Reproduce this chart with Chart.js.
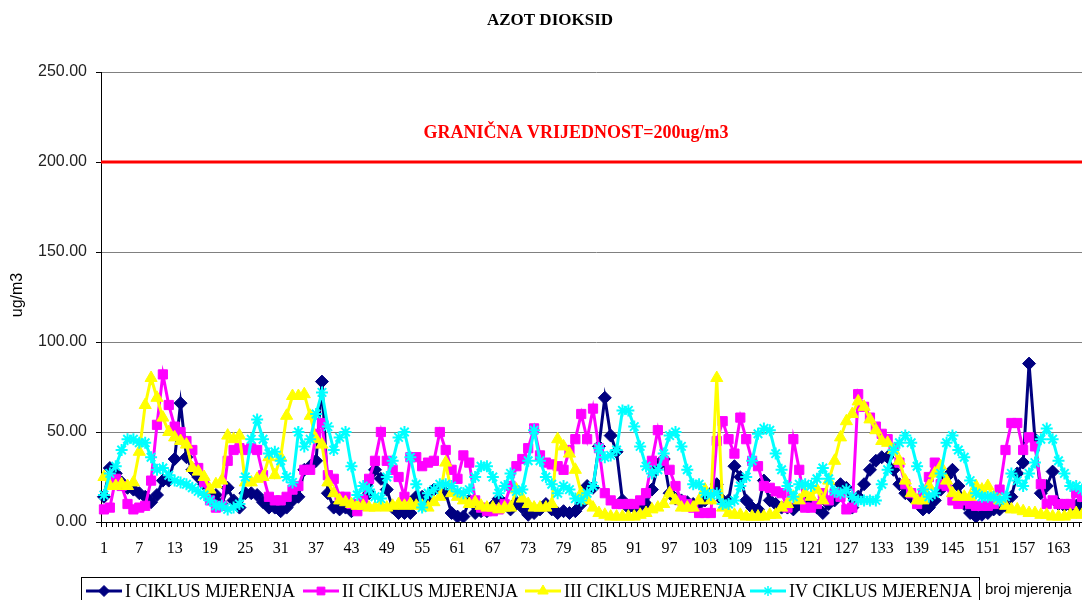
<!DOCTYPE html>
<html>
<head>
<meta charset="utf-8">
<title>AZOT DIOKSID</title>
<script src="https://cdn.jsdelivr.net/npm/chart.js@4.4.1/dist/chart.umd.min.js"></script>
<style>
  html, body { margin: 0; padding: 0; background: #fff; overflow: hidden; }
  canvas { display: block; }
</style>
</head>
<body>
<canvas id="chart" width="1100" height="612"></canvas>
<script>
// Measurement numbers 1..168 (category axis), only every 6th one is labelled
const measurementNo = Array.from({ length: 168 }, (_, i) => String(i + 1));
const xTickLabels = ['1', '7', '13', '19', '25', '31', '37', '43', '49', '55', '61', '67', '73', '79',
  '85', '91', '97', '103', '109', '115', '121', '127', '133', '139', '145', '151', '157', '163'];

// Limit value (ug/m3)
const LIMIT_VALUE = 200;
const LIMIT_TEXT = 'GRANIČNA VRIJEDNOST=200ug/m3';

// NO2 concentrations, ug/m3
const cycle1 = [
  14, 30, 27, 22, 19, 18, 16, 14, 11, 15,
  23, 23, 35, 66, 36, 29, 25, 21, 16, 15,
  10, 19, 12, 8, 16, 16, 15, 11, 8, 8,
  6, 8, 12, 14, 29, 31, 34, 78, 16, 8,
  7, 8, 6, 8, 10, 16, 29, 24, 18, 8,
  5, 5, 5, 14, 14, 12, 18, 18, 16, 5,
  3, 3, 12, 5, 6, 6, 9, 13, 10, 7,
  11, 8, 4, 5, 7, 10, 7, 5, 6, 5,
  6, 10, 20, 19, 42, 69, 48, 39, 12, 8,
  8, 9, 10, 18, 31, 35, 16, 13, 12, 11,
  10, 10, 12, 16, 21, 12, 12, 31, 25, 12,
  8, 7, 23, 12, 10, 8, 8, 7, 10, 12,
  10, 8, 5, 10, 12, 21, 19, 8, 14, 21,
  29, 34, 36, 36, 29, 21, 16, 14, 12, 7,
  8, 12, 18, 25, 29, 20, 10, 5, 3, 4,
  5, 7, 7, 9, 14, 27, 33, 88, 46, 16,
  20, 28, 10, 9, 9, 9, 8, 10
];

const cycle2 = [
  7, 8, 24, 20, 10, 7, 8, 9, 23, 54,
  82, 65, 53, 50, 45, 40, 30, 22, 12, 8,
  9, 34, 40, 41, 40, 41, 40, 26, 14, 12,
  12, 14, 18, 20, 29, 29, 49, 55, 26, 24,
  14, 14, 10, 6, 12, 24, 34, 50, 34, 29,
  25, 14, 36, 36, 31, 33, 34, 50, 40, 29,
  24, 37, 33, 12, 8, 6, 6, 7, 10, 20,
  31, 35, 41, 52, 37, 33, 32, 31, 29, 40,
  46, 60, 46, 63, 41, 16, 12, 10, 10, 10,
  10, 12, 16, 34, 51, 34, 29, 20, 12, 10,
  8, 5, 5, 5, 45, 56, 46, 38, 58, 46,
  34, 31, 20, 19, 17, 16, 8, 46, 29, 8,
  8, 10, 16, 12, 16, 14, 7, 8, 71, 64,
  58, 53, 49, 46, 41, 33, 21, 16, 10, 16,
  25, 33, 21, 20, 12, 10, 12, 10, 9, 9,
  9, 10, 18, 40, 55, 55, 40, 47, 42, 21,
  10, 12, 10, 10, 10, 16, 14, 12
];

const cycle3 = [
  25, 20, 20, 21, 20, 22, 39, 65, 80, 69,
  58, 50, 47, 45, 43, 30, 28, 25, 18, 21,
  23, 48, 46, 48, 22, 22, 24, 25, 36, 26,
  36, 59, 70, 70, 71, 59, 46, 43, 22, 16,
  12, 11, 10, 9, 9, 8, 8, 9, 8, 9,
  10, 9, 10, 9, 9, 8, 11, 14, 33, 16,
  14, 12, 10, 11, 9, 8, 8, 7, 8, 8,
  18, 13, 10, 8, 8, 8, 10, 46, 42, 38,
  29, 16, 12, 8, 5, 4, 3, 3, 3, 3,
  3, 4, 5, 7, 8, 10, 16, 12, 8, 8,
  8, 12, 18, 12, 80, 8, 5, 4, 4, 3,
  3, 3, 3, 4, 4, 8, 10, 14, 12, 16,
  14, 18, 12, 23, 34, 47, 56, 60, 67, 64,
  57, 51, 45, 44, 40, 34, 23, 16, 12, 12,
  20, 27, 31, 23, 16, 14, 14, 14, 20, 18,
  20, 14, 12, 9, 7, 7, 6, 5, 5, 4,
  4, 3, 3, 3, 4, 5, 4, 4
];

const cycle4 = [
  15, 27, 31, 40, 46, 46, 44, 44, 36, 29,
  30, 26, 23, 22, 21, 19, 17, 15, 12, 9,
  9, 7, 8, 10, 25, 46, 57, 46, 38, 39,
  34, 25, 22, 50, 42, 46, 60, 72, 53, 40,
  47, 50, 31, 15, 20, 18, 14, 13, 25, 34,
  47, 50, 36, 21, 8, 16, 18, 21, 21, 20,
  17, 16, 18, 25, 31, 31, 25, 16, 20, 27,
  17, 18, 34, 51, 34, 25, 21, 16, 20, 18,
  13, 12, 16, 20, 41, 36, 37, 40, 62, 62,
  53, 42, 31, 27, 29, 38, 48, 50, 42, 29,
  21, 21, 16, 15, 16, 10, 10, 12, 20, 25,
  34, 49, 52, 51, 38, 29, 20, 14, 21, 21,
  20, 24, 30, 24, 17, 16, 18, 14, 12, 12,
  12, 12, 21, 29, 40, 44, 48, 44, 31, 18,
  14, 16, 27, 44, 48, 40, 36, 23, 16, 14,
  14, 14, 12, 14, 27, 23, 20, 27, 33, 46,
  52, 46, 34, 27, 20, 20, 18, 16
];

const SERIF = "'Liberation Serif', 'Times New Roman', serif";
const SANS = "'Liberation Sans', Arial, sans-serif";
const CANVAS_H = 612;

// Series look (Excel style markers)
const SERIES = [
  { label: 'I CIKLUS MJERENJA', data: cycle1, color: '#000080', style: 'rectRot', radius: 6.5 },
  { label: 'II CIKLUS MJERENJA', data: cycle2, color: '#FF00FF', style: 'rect', radius: 6.5 },
  { label: 'III CIKLUS MJERENJA', data: cycle3, color: '#FFFF00', style: 'triangle', radius: 7 },
  { label: 'IV CIKLUS MJERENJA', data: cycle4, color: '#00FFFF', style: 'star', radius: 6 },
];

// Legend item positions (line start)
const LEGEND_X = [86, 303, 525, 750];

function drawMarker(ctx, s, x, y) {
  ctx.fillStyle = s.color;
  ctx.strokeStyle = s.color;
  ctx.lineWidth = s.style === 'star' ? 1.5 : 1;
  Chart.helpers.drawPoint(ctx, { pointStyle: s.style, radius: s.radius - 1, rotation: 0, borderWidth: ctx.lineWidth }, x, y);
}

// Title, limit line + label, axis titles and legend box
const overlay = {
  id: 'overlay',
  beforeDatasetsDraw(chart) {
    const { ctx, chartArea, scales: { y } } = chart;
    const py = y.getPixelForValue(LIMIT_VALUE);
    ctx.save();
    ctx.strokeStyle = '#FF0000';
    ctx.lineWidth = 3;
    ctx.beginPath();
    ctx.moveTo(chartArea.left, py);
    ctx.lineTo(chartArea.right, py);
    ctx.stroke();
    ctx.restore();
  },
  afterDraw(chart) {
    const { ctx, scales: { y } } = chart;
    ctx.save();
    ctx.textBaseline = 'middle';

    // chart title
    ctx.fillStyle = '#000';
    ctx.textAlign = 'center';
    ctx.font = `bold 17px ${SERIF}`;
    ctx.fillText('AZOT DIOKSID', 550, 21);

    // limit label
    ctx.fillStyle = '#FF0000';
    ctx.font = `bold 18px ${SERIF}`;
    ctx.fillText(LIMIT_TEXT, 576, y.getPixelForValue(LIMIT_VALUE) - 29);

    // y axis title
    ctx.save();
    ctx.translate(18, 295);
    ctx.rotate(-Math.PI / 2);
    ctx.fillStyle = '#000';
    ctx.font = `16px ${SANS}`;
    ctx.fillText('ug/m3', 0, 0);
    ctx.restore();

    // legend
    ctx.strokeStyle = '#000';
    ctx.lineWidth = 1;
    ctx.strokeRect(81.5, 577.5, 898, 40);
    ctx.textAlign = 'left';
    ctx.font = `18px ${SERIF}`;
    SERIES.forEach((s, i) => {
      const lx = LEGEND_X[i];
      ctx.strokeStyle = s.color;
      ctx.lineWidth = 3;
      ctx.beginPath();
      ctx.moveTo(lx, 591);
      ctx.lineTo(lx + 36, 591);
      ctx.stroke();
      drawMarker(ctx, s, lx + 18, 591);
      ctx.fillStyle = '#000';
      ctx.fillText(s.label, lx + 39, 592);
    });

    // x axis title
    ctx.font = `15px ${SANS}`;
    ctx.fillText('broj mjerenja', 985, 590);
    ctx.restore();
  }
};

new Chart(document.getElementById('chart'), {
  type: 'line',
  data: {
    labels: measurementNo,
    datasets: SERIES.map((s, i) => ({
      label: s.label,
      data: s.data,
      order: SERIES.length - 1 - i,
      borderColor: s.color,
      backgroundColor: s.color,
      borderWidth: 3,
      tension: 0,
      fill: false,
      pointStyle: s.style,
      pointRadius: s.radius,
      pointBorderWidth: s.style === 'star' ? 2 : 1,
      pointBackgroundColor: s.color,
      pointBorderColor: s.color,
    }))
  },
  options: {
    responsive: false,
    animation: false,
    layout: { padding: { left: 0, top: 72, right: 3.4, bottom: 0 } },
    plugins: {
      legend: { display: false },
      title: { display: false },
      tooltip: { enabled: false }
    },
    scales: {
      x: {
        type: 'category',
        offset: true,
        grid: { display: true, drawOnChartArea: false, drawTicks: true, tickLength: 5, color: '#000', offset: true },
        border: { display: true, color: '#000', width: 1 },
        ticks: {
          autoSkip: false,
          maxRotation: 0,
          minRotation: 0,
          padding: 12,
          color: '#000',
          font: { family: SERIF, size: 16 },
          callback(value) {
            const lbl = this.getLabelForValue(value);
            return xTickLabels.includes(lbl) ? lbl : '';
          }
        },
        afterFit(scale) { scale.height = CANVAS_H - 522; }
      },
      y: {
        min: 0,
        max: 250,
        ticks: {
          stepSize: 50,
          padding: 9,
          color: '#222',
          font: { family: SANS, size: 16 },
          callback: v => v.toFixed(2)
        },
        grid: { color: '#808080', lineWidth: 1, tickLength: 5, tickColor: '#000' },
        border: { display: true, color: '#000', width: 1 },
        afterFit(scale) { scale.width = 101; }
      }
    }
  },
  plugins: [overlay]
});
</script>
</body>
</html>
